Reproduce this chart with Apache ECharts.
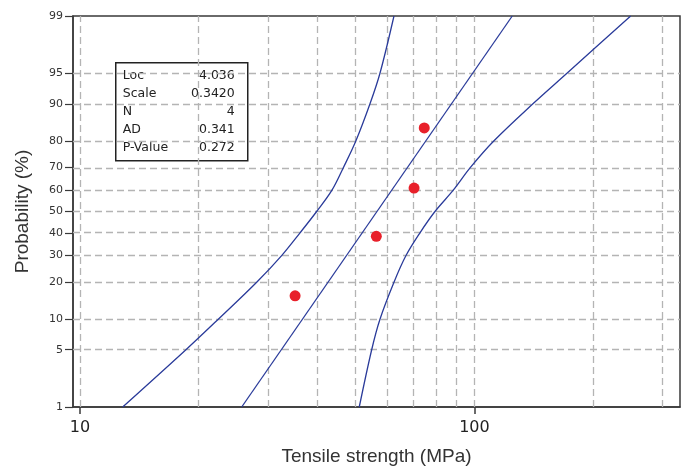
<!DOCTYPE html>
<html>
<head>
<meta charset="utf-8">
<title>Probability plot</title>
<script src="https://cdn.jsdelivr.net/npm/echarts@6.0.0/dist/echarts.min.js"></script>
<style>
  html, body { margin: 0; padding: 0; background: #fff; }
  #chart { width: 688px; height: 468px; }
</style>
</head>
<body>
<div id="chart"></div>
<script>
// data
const pointValue = [35.1, 56.4, 70.3, 74.6]
const pointProb = [15.8, 38.4, 61.0, 84.0]

const bandProb = [1, 5, 10, 20, 30, 40, 50, 60, 70, 80, 90, 95, 99]
const lowerBand = [12.83, 18.56, 22.42, 28.05, 32.45, 36.13, 39.81, 43.53, 46.55, 50.07, 54.35, 57.61, 62.52]
const upperBand = [51.05, 54.89, 57.61, 62.52, 67.06, 72.76, 79.42, 88.36, 97.69, 112.1, 140.7, 171.6, 248.9]

const fitProb = [1, 99]
const fitValue = [25.7, 124.7]

const yTickProb = [1, 5, 10, 20, 30, 40, 50, 60, 70, 80, 90, 95, 99]
const yGridProb = [5, 10, 20, 30, 40, 50, 60, 70, 80, 90, 95]
const xTickValues = [10, 100]
const xGridValues = [10, 20, 30, 40, 50, 60, 70, 80, 90, 100, 200, 300]

const statLabels = ['Loc', 'Scale', 'N', 'AD', 'P-Value']
const statValues = ['4.036', '0.3420', '4', '0.341', '0.272']

// inverse normal cdf (probability axis transform)
function probit(p) {
	const a = [-3.969683028665376e+01, 2.209460984245205e+02, -2.759285104469687e+02, 1.383577518672690e+02, -3.066479806614716e+01, 2.506628277459239e+00]
	const b = [-5.447609879822406e+01, 1.615858368580409e+02, -1.556989798598866e+02, 6.680131188771972e+01, -1.328068155288572e+01]
	const c = [-7.784894002430293e-03, -3.223964580411365e-01, -2.400758277161838e+00, -2.549671010269523e+00, 4.374664141464968e+00, 2.938163982698783e+00]
	const d = [7.784695709041462e-03, 3.224671290700398e-01, 2.445134137142996e+00, 3.754408661907416e+00]
	const pl = 0.02425
	let q, r
	if (p < pl) {
		q = Math.sqrt(-2 * Math.log(p))
		return (((((c[0] * q + c[1]) * q + c[2]) * q + c[3]) * q + c[4]) * q + c[5]) / ((((d[0] * q + d[1]) * q + d[2]) * q + d[3]) * q + 1)
	}
	if (p > 1 - pl) {
		q = Math.sqrt(-2 * Math.log(1 - p))
		return -(((((c[0] * q + c[1]) * q + c[2]) * q + c[3]) * q + c[4]) * q + c[5]) / ((((d[0] * q + d[1]) * q + d[2]) * q + d[3]) * q + 1)
	}
	q = p - 0.5
	r = q * q
	return (((((a[0] * r + a[1]) * r + a[2]) * r + a[3]) * r + a[4]) * r + a[5]) * q / (((((b[0] * r + b[1]) * r + b[2]) * r + b[3]) * r + b[4]) * r + 1)
}

const z = p => probit(p / 100)
const pairs = (vals, probs) => vals.map((v, i) => [v, z(probs[i])])

const yTickZ = yTickProb.map(z)
const frameColor = '#3a3a3a'
const curveColor = '#2a3b9a'

let myChart = echarts.init(document.getElementById('chart'), null, { renderer: 'canvas' })

const gridLines = xGridValues.map(v => ({ xAxis: v }))
	.concat(yGridProb.map(p => ({ yAxis: z(p) })))

let option = {
	animation: false,
	grid: {
		left: 73,
		right: 8,
		top: 16,
		bottom: 61,
		outerBoundsMode: 'none',
		containLabel: false,
		show: true,
		borderColor: frameColor,
		borderWidth: 1.5
	},
	xAxis: {
		type: 'log',
		logBase: 10,
		min: 9.6,
		max: 332,
		name: 'Tensile strength (MPa)',
		nameLocation: 'middle',
		nameGap: 40,
		nameTextStyle: {
			fontFamily: 'Liberation Sans',
			fontSize: 19,
			color: '#333'
		},
		axisLine: { show: true, onZero: false, lineStyle: { color: frameColor, width: 1.5 } },
		axisTick: {
			show: true,
			customValues: xTickValues,
			length: 7,
			lineStyle: { color: frameColor, width: 1.5 }
		},
		axisLabel: {
			customValues: xTickValues,
			margin: 13,
			fontFamily: 'DejaVu Sans',
			fontSize: 16,
			color: '#222'
		},
		splitLine: { show: false },
		minorTick: { show: false }
	},
	yAxis: {
		type: 'value',
		min: z(yTickProb[0]),
		max: z(yTickProb[yTickProb.length - 1]),
		name: 'Probability (%)',
		nameLocation: 'middle',
		nameGap: 41,
		nameTextStyle: {
			fontFamily: 'Liberation Sans',
			fontSize: 19,
			color: '#333'
		},
		axisLine: { show: true, onZero: false, lineStyle: { color: frameColor, width: 1.5 } },
		axisTick: {
			show: true,
			customValues: yTickZ,
			length: 8,
			lineStyle: { color: frameColor, width: 1.2 }
		},
		axisLabel: {
			customValues: yTickZ,
			margin: 10,
			fontFamily: 'DejaVu Sans',
			fontSize: 11,
			color: '#333',
			formatter: val => {
				let i = yTickZ.findIndex(t => Math.abs(t - val) < 1e-6)
				return i < 0 ? '' : String(yTickProb[i])
			}
		},
		splitLine: { show: false }
	},
	series: [
		{
			// dashed reference grid, kept under the curves
			type: 'line',
			data: [],
			z: 1,
			markLine: {
				z: 1,
				silent: true,
				symbol: ['none', 'none'],
				label: { show: false },
				lineStyle: { color: '#b4b4b4', type: [7, 4], width: 1.3 },
				data: gridLines
			}
		},
		{
			name: 'lower',
			type: 'line',
			data: pairs(lowerBand, bandProb),
			showSymbol: false,
			smooth: 0.35,
			z: 3,
			lineStyle: { color: curveColor, width: 1.3 }
		},
		{
			name: 'upper',
			type: 'line',
			data: pairs(upperBand, bandProb),
			showSymbol: false,
			smooth: 0.35,
			z: 3,
			lineStyle: { color: curveColor, width: 1.3 }
		},
		{
			name: 'fit',
			type: 'line',
			data: pairs(fitValue, fitProb),
			showSymbol: false,
			z: 3,
			lineStyle: { color: curveColor, width: 1.3 }
		},
		{
			name: 'data',
			type: 'scatter',
			data: pairs(pointValue, pointProb),
			symbolSize: 11,
			z: 6,
			itemStyle: { color: '#e8202a', opacity: 1 }
		}
	],
	graphic: [
		{
			type: 'group',
			left: 115,
			top: 62,
			z: 10,
			children: [
				{
					type: 'rect',
					shape: { x: 0, y: 0, width: 132, height: 98 },
					style: { fill: '#fff', stroke: '#222', lineWidth: 1.5 }
				}
			].concat(statLabels.map((t, i) => ({
				type: 'text',
				x: 7,
				y: 13 + i * 18.1,
				style: {
					text: t,
					font: '12.5px "DejaVu Sans"',
					fill: '#222',
					verticalAlign: 'middle'
				}
			}))).concat(statValues.map((t, i) => ({
				type: 'text',
				x: 119,
				y: 13 + i * 18.1,
				style: {
					text: t,
					font: '12.5px "DejaVu Sans"',
					fill: '#222',
					align: 'right',
					verticalAlign: 'middle'
				}
			})))
		}
	]
}

myChart.setOption(option)
</script>
</body>
</html>
